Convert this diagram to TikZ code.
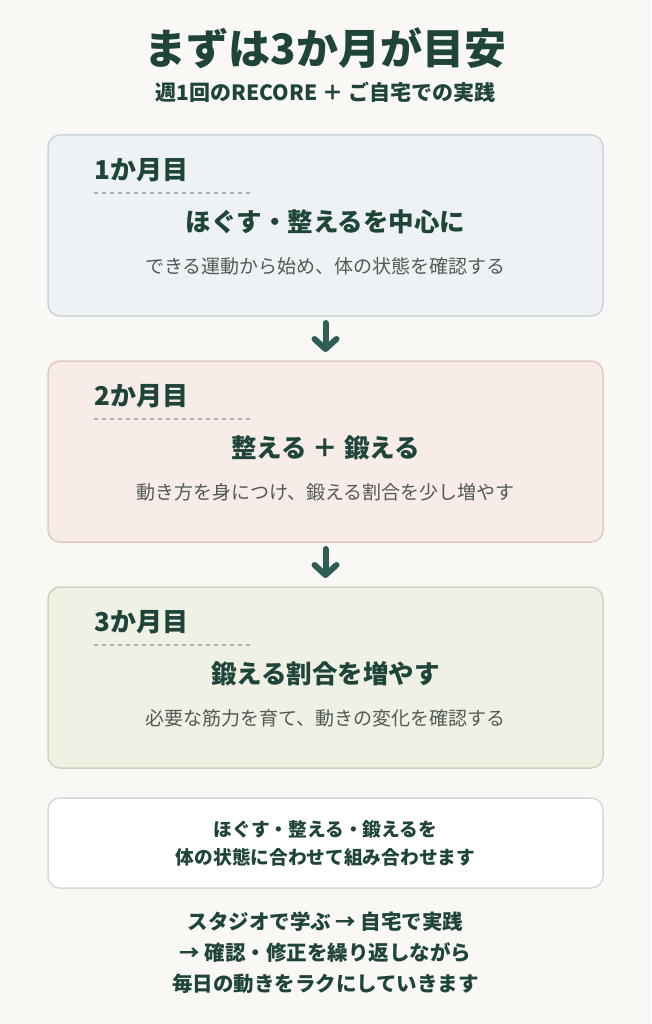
\documentclass[tikz,border=0pt]{standalone}
\usepackage{fontspec}
\setmainfont{Noto Sans CJK JP}
\usetikzlibrary{positioning,arrows.meta}
\definecolor{PageBg}{HTML}{FAF8F4}
\definecolor{DeepGreen}{HTML}{1F453B}
\definecolor{ArrowGreen}{HTML}{2E5E55}
\definecolor{NoteGray}{HTML}{525A58}
\definecolor{DashGray}{HTML}{A9B4B6}
\definecolor{OneFill}{HTML}{EEF2F5}
\definecolor{OneLine}{HTML}{C9D4DA}
\definecolor{TwoFill}{HTML}{F7ECE7}
\definecolor{TwoLine}{HTML}{E3CABF}
\definecolor{ThreeFill}{HTML}{EEF1E3}
\definecolor{ThreeLine}{HTML}{CCD6BF}
\definecolor{NoteLine}{HTML}{D2DCD8}
\tikzset{
  monthbox/.style={draw,rounded corners=12pt,line width=1.5pt,minimum width=555pt,minimum height=181pt,inner sep=0pt,outer sep=0pt},
  monthlabel/.style={anchor=west,font=\bfseries\fontsize{26}{30}\selectfont,text=DeepGreen,inner sep=0pt},
  monthhead/.style={font=\bfseries\fontsize{25.5}{30}\selectfont,text=DeepGreen,inner sep=0pt},
  monthnote/.style={font=\fontsize{19}{22}\selectfont,text=NoteGray,inner sep=0pt},
  dashline/.style={DashGray,line width=1.5pt,dash pattern=on 4pt off 4pt},
  flowarrow/.style={ArrowGreen,line width=6pt,line cap=round,-{Straight Barb[length=10pt,width=22pt,round]},shorten <=7pt,shorten >=9pt},
  plaintext/.style={font=\bfseries\fontsize{18.7}{28}\selectfont,text=DeepGreen,align=center,inner sep=0pt}
}
\begin{document}
\begin{tikzpicture}[x=1pt,y=-1pt]
\fill[PageBg] (0,0) rectangle (651,1024);
\useasboundingbox (0,0) rectangle (651,1024);

% title
\node[font=\bfseries\fontsize{42}{46}\selectfont,text=DeepGreen,inner sep=0pt] (title) at (325.5,48) {まずは3か月が目安};
\node[font=\bfseries\fontsize{21}{24}\selectfont,text=DeepGreen,inner sep=0pt] (subtitle) at (325.5,92) {週1回のRECORE ＋ ご自宅での実践};

% month boxes
\node[monthbox,fill=OneFill,draw=OneLine] (m1) at (325.5,225.5) {};
\node[monthbox,fill=TwoFill,draw=TwoLine,below=45pt of m1] (m2) {};
\node[monthbox,fill=ThreeFill,draw=ThreeLine,below=45pt of m2] (m3) {};

\node[monthlabel] (l1) at ([xshift=46pt,yshift=-35pt]m1.north west) {1か月目};
\draw[dashline] ([yshift=-58pt]m1.north west) ++(46pt,0) -- ++(156pt,0);
\node[monthhead] (h1) at ([yshift=-87pt]m1.north) {ほぐす・整えるを中心に};
\node[monthnote] (n1) at ([yshift=-131pt]m1.north) {できる運動から始め、体の状態を確認する};

\node[monthlabel] (l2) at ([xshift=46pt,yshift=-35pt]m2.north west) {2か月目};
\draw[dashline] ([yshift=-58pt]m2.north west) ++(46pt,0) -- ++(156pt,0);
\node[monthhead] (h2) at ([yshift=-87pt]m2.north) {整える ＋ 鍛える};
\node[monthnote] (n2) at ([yshift=-131pt]m2.north) {動き方を身につけ、鍛える割合を少し増やす};

\node[monthlabel] (l3) at ([xshift=46pt,yshift=-35pt]m3.north west) {3か月目};
\draw[dashline] ([yshift=-58pt]m3.north west) ++(46pt,0) -- ++(156pt,0);
\node[monthhead] (h3) at ([yshift=-87pt]m3.north) {鍛える割合を増やす};
\node[monthnote] (n3) at ([yshift=-131pt]m3.north) {必要な筋力を育て、動きの変化を確認する};

\draw[flowarrow] (m1.south) -- (m2.north);
\draw[flowarrow] (m2.south) -- (m3.north);

% summary
\node[monthbox,fill=white,draw=NoteLine,minimum height=90pt,below=30pt of m3] (sum) {};
\node[plaintext] (sumtext) at (sum.center) {ほぐす・整える・鍛えるを\\体の状態に合わせて組み合わせます};

\node[plaintext,font=\bfseries\fontsize{20.5}{31}\selectfont] (foot) at (325.5,953) {スタジオで学ぶ → 自宅で実践\\→ 確認・修正を繰り返しながら\\毎日の動きをラクにしていきます};
\end{tikzpicture}
\end{document}
